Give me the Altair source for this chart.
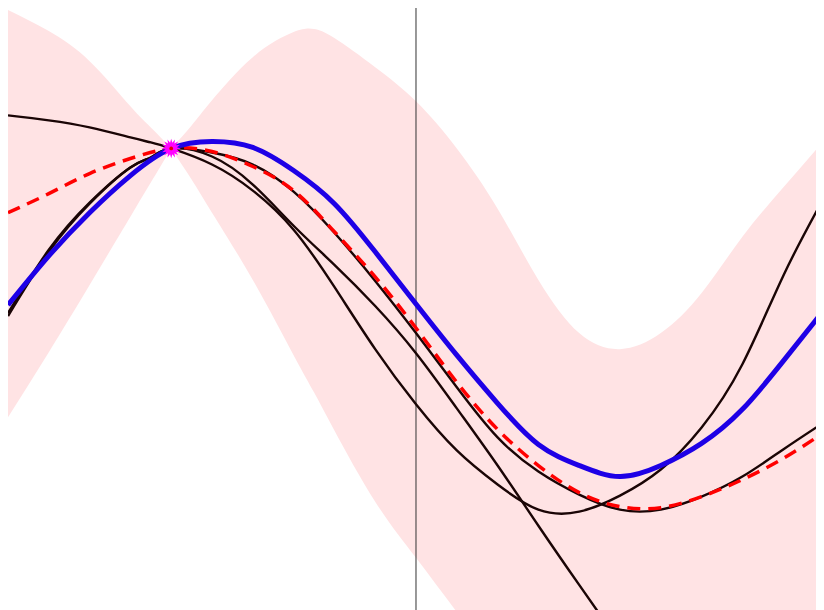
import math
import altair as alt
import pandas as pd

# ---- data ----
x_grid = [0, 0.5, 1, 1.5, 2, 2.5, 3, 3.5, 4, 4.5, 5, 5.5, 6, 6.5, 7, 7.5, 8, 8.5, 9, 9.5, 10]
mean_y = [0.96, 1.15, 1.35, 1.50, 1.60, 1.57, 1.42, 1.18, 0.77, 0.32, -0.19, -0.73, -1.20,
          -1.56, -1.83, -1.97, -1.98, -1.87, -1.70, -1.49, -1.23]
true_y = [0.04, 0.53, 0.96, 1.33, 1.60, 1.67, 1.61, 1.38, 1.05, 0.57, 0.05, -0.46, -0.94,
          -1.35, -1.56, -1.67, -1.56, -1.34, -1.00, -0.52, -0.01]

band_x = [0, 0.5, 1, 1.5, 1.75, 2, 2.25, 2.5, 3, 3.5, 3.75, 4, 4.5, 5, 5.5, 6, 6.5, 7, 7.5,
          8, 8.5, 9, 9.5, 10]
band_upper = [2.98, 2.77, 2.47, 2.02, 1.81, 1.60, 1.83, 2.08, 2.51, 2.76, 2.79, 2.70, 2.41,
              2.07, 1.60, 1.00, 0.29, -0.24, -0.40, -0.24, 0.16, 0.72, 1.21, 1.68]
band_lower = [-1.08, -0.43, 0.24, 0.92, 1.26, 1.60, 1.29, 0.96, 0.29, -0.46, -0.83, -1.21,
              -1.92, -2.48, -3.02, -3.5, -3.8, -4.0, -4.1, -4.1, -4.0, -3.9, -3.7, -3.5]

sample_x = [0, 0.5, 1, 1.5, 1.75, 2, 2.5, 3, 3.5, 4, 4.5, 5, 5.5, 6, 6.5, 7, 7.5, 8, 8.5,
            9, 9.5, 10]
sample_1 = [1.93, 1.88, 1.81, 1.71, 1.66, 1.60, 1.44, 1.18, 0.79, 0.22, -0.40, -0.95, -1.41,
            -1.75, -2.00, -2.02, -1.86, -1.60, -1.18, -0.55, 0.33, 1.11]
sample_2 = [-0.04, 0.59, 1.06, 1.41, 1.51, 1.60, 1.56, 1.44, 1.17, 0.76, 0.28, -0.24, -0.78,
            -1.28, -1.62, -1.85, -2.00, -2.00, -1.87, -1.67, -1.40, -1.13]
sample_3 = [-0.07, 0.57, 1.05, 1.41, 1.51, 1.60, 1.52, 1.24, 0.83, 0.44, 0.03, -0.44, -0.99,
            -1.56, -2.16, -2.75, -3.33]

obs_x = [2.0]
obs_y = [1.60]
vline_x = [5.0]

# ---- tables ----
band = pd.DataFrame({"x": band_x, "upper": band_upper, "lower": band_lower})
band_left = band[band.x <= 2]
band_right = band[band.x >= 2]
curves = pd.DataFrame({"x": x_grid, "mean": mean_y, "truth": true_y})
samples = pd.concat([
    pd.DataFrame({"x": sample_x, "y": sample_1, "s": "s1"}),
    pd.DataFrame({"x": sample_x, "y": sample_2, "s": "s2"}),
    pd.DataFrame({"x": sample_x[:len(sample_3)], "y": sample_3, "s": "s3"}),
])
obs = pd.DataFrame({"x": obs_x, "y": obs_y})
vline = pd.DataFrame({"x": vline_x})

# the visible window of the reference: x from 0 to ~9.9, y from -3 to 3
xs = alt.Scale(domain=[0, 9.902], nice=False, zero=False)
ys = alt.Scale(domain=[-3, 3], nice=False, zero=False)
X = lambda f: alt.X(f, scale=xs, axis=None)
Y = lambda f: alt.Y(f, scale=ys, axis=None)

def band_layer(df):
    return alt.Chart(df).mark_area(color="#ffe3e4", opacity=1, interpolate="natural", clip=True).encode(
        x=X("x:Q"), y=Y("upper:Q"), y2="lower:Q")

rule = alt.Chart(vline).mark_rule(color="#333333", strokeWidth=1).encode(x=X("x:Q"))

samp = alt.Chart(samples).mark_line(color="#1a0505", strokeWidth=2.4, interpolate="natural", clip=True).encode(
    x=X("x:Q"), y=Y("y:Q"), detail="s:N")

mean_line = alt.Chart(curves).mark_line(color="#ff0000", strokeWidth=3.5, strokeDash=[13, 8],
                                        interpolate="natural", clip=True).encode(x=X("x:Q"), y=Y("mean:Q"))
true_line = alt.Chart(curves).mark_line(color="#1e00e6", strokeWidth=5, interpolate="natural", clip=True).encode(
    x=X("x:Q"), y=Y("truth:Q"))

# spiky star marker path
pts = []
for i in range(32):
    r = 1.0 if i % 2 == 0 else 0.6
    a = math.pi * i / 16
    pts.append(f"{r*math.cos(a):.3f},{r*math.sin(a):.3f}")
star_path = "M" + " L".join(pts) + " Z"

star = alt.Chart(obs).mark_point(shape=star_path, filled=True, color="#ff00ff", size=380, opacity=1).encode(
    x=X("x:Q"), y=Y("y:Q"))
dot = alt.Chart(obs).mark_point(shape="circle", filled=True, color="#e00000", size=14, opacity=1).encode(
    x=X("x:Q"), y=Y("y:Q"))

chart = alt.layer(band_layer(band_left), band_layer(band_right), rule, samp, mean_line, true_line, star, dot).properties(
    width=808, height=602, padding=0, autosize=alt.AutoSizeParams(type="none"),
    background="white"
).configure_view(stroke=None)

chart.save("out.html", embed_options={"renderer": "svg", "actions": False})
